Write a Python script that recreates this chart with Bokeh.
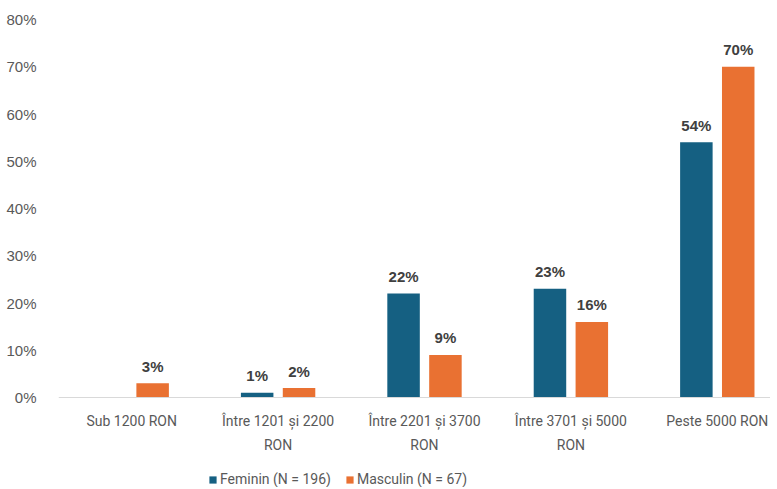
from bokeh.plotting import figure
from bokeh.models import (ColumnDataSource, Range1d, FixedTicker, PrintfTickFormatter,
                          Legend, LegendItem, Span)
from bokeh.core.properties import value
from bokeh.embed import file_html
from bokeh.resources import INLINE

categories = ["Sub 1200 RON", "Între 1201 și 2200\nRON", "Între 2201 și 3700\nRON",
              "Între 3701 și 5000\nRON", "Peste 5000 RON"]
feminin = [0, 1, 22, 23, 54]
masculin = [3, 2, 9, 16, 70]
series_names = ["Feminin (N = 196)", "Masculin (N = 67)"]
y_ticks = [0, 10, 20, 30, 40, 50, 60, 70, 80]

BLUE = "#156082"
ORANGE = "#E97132"
off = 0.143
bw = 0.222
CAT_FONT = "Roboto"

W, H = 770, 487
TOP, LEFT = 19, 58
PX_PER_UNIT = 4.725          # vertical pixels per percentage point
PX_PER_CAT = 146.4           # horizontal pixels per category
y_start = 80 - (H - TOP) / PX_PER_UNIT   # frame extends below 0 to hold labels + legend
x_end = -0.5 + (W - LEFT) / PX_PER_CAT

xs = list(range(len(categories)))

p = figure(width=W, height=H, output_backend="svg", toolbar_location=None,
           x_range=Range1d(-0.5, x_end), y_range=Range1d(y_start, 80),
           min_border_left=LEFT, min_border_right=0, min_border_top=TOP, min_border_bottom=0)
p.outline_line_color = None
p.xgrid.visible = False
p.ygrid.visible = False
p.xaxis.visible = False

# baseline at 0
p.add_layout(Span(location=0, dimension="width", line_color="#d9d9d9", line_width=1))

src_f = ColumnDataSource(dict(x=[x - off for x in xs], top=feminin))
src_m = ColumnDataSource(dict(x=[x + off for x in xs], top=masculin))
rf = p.vbar(x="x", top="top", width=bw, source=src_f, fill_color=BLUE, line_color=None)
rm = p.vbar(x="x", top="top", width=bw, source=src_m, fill_color=ORANGE, line_color=None)

# value labels
lab_x, lab_y, lab_t = [], [], []
for i in xs:
    if feminin[i] > 0:
        lab_x.append(i - off); lab_y.append(feminin[i]); lab_t.append(f"{feminin[i]}%")
    if masculin[i] > 0:
        lab_x.append(i + off); lab_y.append(masculin[i]); lab_t.append(f"{masculin[i]}%")
lsrc = ColumnDataSource(dict(x=lab_x, y=lab_y, t=lab_t))
p.text(x="x", y="y", text="t", source=lsrc, text_align="center", text_baseline="middle",
       y_offset=-17, text_font=value("Liberation Sans"), text_font_style="bold",
       text_font_size="15px", text_color="#404040")

# category labels (drawn under the baseline)
csrc = ColumnDataSource(dict(x=xs, y=[0] * len(xs), t=categories))
p.text(x="x", y="y", text="t", source=csrc, text_align="center", text_baseline="top",
       y_offset=15, text_line_height=1.5, text_font=value(CAT_FONT),
       text_font_size="14px", text_color="#595959")

# y axis
p.yaxis.ticker = FixedTicker(ticks=y_ticks)
p.yaxis.formatter = PrintfTickFormatter(format="%d%%")
p.yaxis.axis_line_color = None
p.yaxis.major_tick_line_color = None
p.yaxis.minor_tick_line_color = None
p.yaxis.major_label_standoff = 16
p.yaxis.major_label_text_font = "Liberation Sans"
p.yaxis.major_label_text_font_size = "15px"
p.yaxis.major_label_text_color = "#595959"

legend = Legend(items=[LegendItem(label=series_names[0], renderers=[rf]),
                       LegendItem(label=series_names[1], renderers=[rm])],
                orientation="horizontal", location=(150, 0),
                glyph_width=9, glyph_height=9, label_standoff=3, spacing=14,
                padding=0, margin=0, border_line_color=None, background_fill_alpha=0,
                label_text_font=CAT_FONT, label_text_font_size="14px",
                label_text_color="#595959")
p.add_layout(legend, "center")

open("out.html", "w").write(file_html(p, INLINE))
